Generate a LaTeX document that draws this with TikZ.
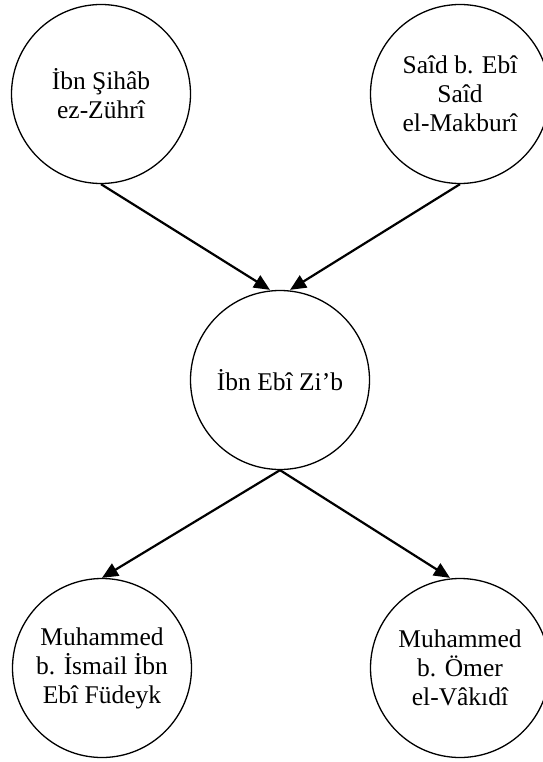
\documentclass[tikz,border=0pt]{standalone}
\usepackage{fontspec}
\setmainfont{Liberation Serif}
\usetikzlibrary{arrows.meta}

\begin{document}
\begin{tikzpicture}[
    x=1pt, y=-1pt,
    font=\fontsize{25.5}{29}\selectfont,
    >={Triangle[length=16pt,width=14pt]},
    narrator/.style={circle, draw, line width=1.3pt, minimum size=179pt, inner sep=0pt, align=center},
    link/.style={->, line width=2.2pt}
]
\useasboundingbox (0,0) rectangle (542,762);

% =========================================================================
% 1. Upper narrators
% =========================================================================
\node[narrator] (zuhri)   at (101,94) {İbn Şihâb\\ez-Zührî};
\node[narrator] (makburi) at (460,94) {Saîd b. Ebî\\Saîd\\el-Makburî};

% =========================================================================
% 2. Common link
% =========================================================================
\node[narrator] (zib) at (280,380) {İbn Ebî Zi’b};

% =========================================================================
% 3. Lower narrators
% =========================================================================
\node[narrator] (fudeyk) at (102,668) {Muhammed\\b. İsmail İbn\\Ebî Füdeyk};
\node[narrator] (vakidi) at (460,668) {Muhammed\\b. Ömer\\el-Vâkıdî};

% Transmission lines
\draw[link] (zuhri.south)   -- ([xshift=-10pt]zib.north);
\draw[link] (makburi.south) -- ([xshift=10pt]zib.north);
\draw[link] (zib.south) -- (fudeyk.north);
\draw[link] (zib.south) -- ([xshift=-10pt]vakidi.north);

\end{tikzpicture}
\end{document}
